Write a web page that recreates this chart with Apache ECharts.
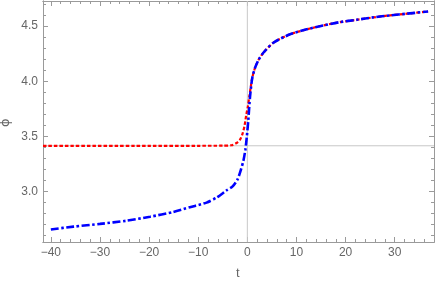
<!DOCTYPE html>
<html><head><meta charset="utf-8">
<script src="https://cdn.jsdelivr.net/npm/echarts@6/dist/echarts.min.js"></script>
<style>html,body{margin:0;padding:0;background:#fff}#c{width:436px;height:286px}</style>
</head><body><div id="c"></div>
<script>
// data
var blueT   = [-40,-35.4,-30,-24.6,-19.8,-15.1,-11.7,-8.3,-6.2,-4.2,-3.0,-2.0,-1.3,-0.8,-0.4,-0.1,0.2,0.55,1.0,1.57,2.3,3.26,5.3,8.7,12.1,15.5,18.9,22.3,25.7,29.1,32.5,36.8];
var bluePhi = [2.657,2.682,2.707,2.736,2.772,2.815,2.858,2.90,2.947,3.012,3.047,3.11,3.20,3.28,3.38,3.50,3.65,3.86,4.03,4.122,4.195,4.258,4.349,4.425,4.47,4.506,4.536,4.557,4.579,4.597,4.612,4.632];
var redT    = [-41.6,-20,-10,-5,-3.2,-2.2,-1.5,-1.0,-0.6,-0.2,0.1,0.4,0.7,1.0,1.57,2.3,3.26,5.3,8.7,12.1,15.5,18.9,22.3,25.7,29.1,32.5,36.8];
var redPhi  = [3.415,3.415,3.415,3.416,3.42,3.44,3.47,3.52,3.59,3.70,3.77,3.86,3.95,4.03,4.122,4.195,4.258,4.349,4.425,4.47,4.506,4.536,4.557,4.579,4.597,4.612,4.632];
var xMajor = [-40,-30,-20,-10,0,10,20,30];
var xMinor = [-40,-38,-36,-34,-32,-30,-28,-26,-24,-22,-20,-18,-16,-14,-12,-10,-8,-6,-4,-2,0,2,4,6,8,10,12,14,16,18,20,22,24,26,28,30,32,34,36,38];
var yMajor = [3.0,3.5,4.0,4.5];
var yMinor = [2.6,2.7,2.8,2.9,3.0,3.1,3.2,3.3,3.4,3.5,3.6,3.7,3.8,3.9,4.0,4.1,4.2,4.3,4.4,4.5,4.6,4.7];
var gridT = 0, gridPhi = 3.415;
var xRange = [-41.6, 38.0], yRange = [2.543, 4.727];

function pairs(a,b){return a.map(function(v,i){return [v,b[i]];});}
function fmt(v, d){var s = d ? v.toFixed(d) : String(Math.round(v)); return s.replace('-', '\u2212');}
var axisCol = '#9a9a9a', txtCol = '#666';
function xAx(pos, vals, len, labels){
  return {type:'value', position:pos, min:xRange[0], max:xRange[1],
    axisLine:{show:true, onZero:false, lineStyle:{color:axisCol,width:1}},
    axisTick:{show:true, inside:true, length:len, customValues:vals, lineStyle:{color:axisCol}},
    axisLabel:{show:labels, customValues:xMajor, color:txtCol, fontSize:12, fontFamily:'Liberation Sans, Arial', margin:5, formatter:function(v){return fmt(v,0);}},
    splitLine:{show:false}};
}
function yAx(pos, vals, len, labels){
  return {type:'value', position:pos, min:yRange[0], max:yRange[1],
    axisLine:{show:true, onZero:false, lineStyle:{color:axisCol,width:1}},
    axisTick:{show:true, inside:true, length:len, customValues:vals, lineStyle:{color:axisCol}},
    axisLabel:{show:labels, customValues:yMajor, color:txtCol, fontSize:12, fontFamily:'Liberation Sans, Arial', margin:5, formatter:function(v){return fmt(v,1);}},
    splitLine:{show:false}};
}
var xa = [xAx('bottom', xMajor, 5, true), xAx('bottom', xMinor, 3, false), xAx('top', xMajor, 5, false), xAx('top', xMinor, 3, false)];
var ya = [yAx('left', yMajor, 5, true), yAx('left', yMinor, 3, false), yAx('right', yMajor, 5, false), yAx('right', yMinor, 3, false)];
var gridStyle = {color:'#c8c8c8', width:1, type:'solid'};
var chart = echarts.init(document.getElementById('c'), null, {renderer:'canvas'});
chart.setOption({
  animation:false,
  grid:{left:43, right:2, top:1, bottom:44, containLabel:false},
  xAxis: xa, yAxis: ya,
  graphic:[
    {type:'text', left:236, top:267, style:{text:'t', fill:txtCol, font:'13px Liberation Sans, Arial'}},
    {type:'text', x:-1, y:127, rotation:Math.PI/2, style:{text:'\u03d5', fill:txtCol, font:'13px DejaVu Sans'}}
  ],
  series:[
    {type:'line', data:[[gridT, yRange[0]],[gridT, yRange[1]]], z:1, silent:true, showSymbol:false, lineStyle:gridStyle},
    {type:'line', data:[[xRange[0], gridPhi],[xRange[1], gridPhi]], z:1, silent:true, showSymbol:false, lineStyle:gridStyle},
    {type:'line', data:pairs(redT, redPhi), xAxisIndex:0, yAxisIndex:0, z:2, showSymbol:false, smooth:0.25,
     lineStyle:{color:'#ff0000', width:2.2, type:[3.5,2]}},
    {type:'line', data:pairs(blueT, bluePhi), xAxisIndex:0, yAxisIndex:0, z:3, showSymbol:false, smooth:0.25,
     lineStyle:{color:'#0000ff', width:2.6, type:[8,2.5,2.5,2.5]}}
  ]
});
</script></body></html>
